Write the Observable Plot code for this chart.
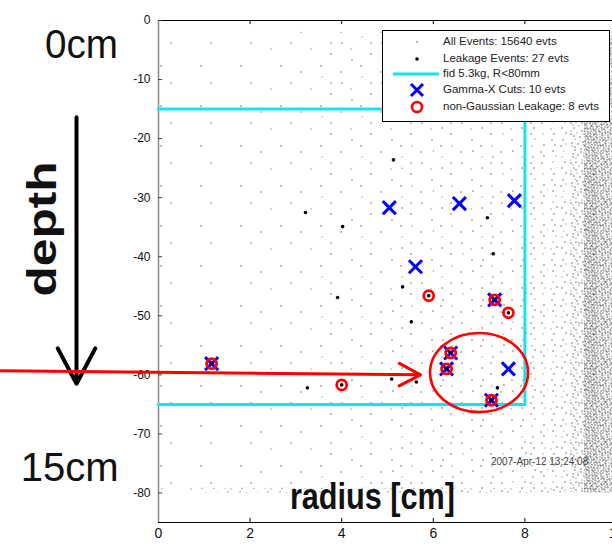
<!DOCTYPE html>
<html><head><meta charset="utf-8">
<script src="https://cdn.jsdelivr.net/npm/d3@7"></script>
<script src="https://cdn.jsdelivr.net/npm/@observablehq/plot@0.6"></script>
<style>
html,body{margin:0;padding:0;background:#fff;overflow:hidden;}
#wrap{position:relative;width:612px;height:545px;overflow:hidden;}
#wrap > svg{max-width:none !important;display:block;}
#legend{position:absolute;left:382px;top:30px;width:226px;height:90px;border:1px solid #000;background:#fff;font-family:"Liberation Sans",Arial,sans-serif;font-size:11.5px;color:#222;}
#legend .row{position:absolute;left:0;width:226px;height:16px;}
#legend .row svg{position:absolute;left:0;top:0;}
#legend .row span{position:absolute;left:60px;top:1px;white-space:nowrap;}
</style></head><body><div id="wrap"></div>
<script>
// ---------- data ----------
const xTicks = [0, 2, 4, 6, 8, 10];
const yTicks = [0, -10, -20, -30, -40, -50, -60, -70, -80];

// fiducial volume boundary (radius cm, depth)
const fidRadius = [0, 8, 8, 0];
const fidDepth = [-15, -15, -65, -65];

// leakage events (black dots)
const leakRadius = [5.13, 3.21, 4.02, 7.18, 7.31, 5.33, 3.91, 5.52, 5.09, 5.63, 3.25, 7.40, 5.90, 7.64, 4.00, 7.34, 1.16, 6.38, 6.29, 7.27];
const leakDepth  = [-23.6, -32.5, -34.9, -33.4, -39.5, -45.1, -46.9, -51.0, -60.7, -61.2, -62.2, -62.2, -46.6, -49.5, -61.7, -47.3, -58.1, -56.3, -59.0, -64.3];

// gamma-X cut events (blue crosses)
const gammaXRadius = [5.04, 6.57, 7.77, 5.61, 7.64, 7.34, 1.16, 6.38, 6.29, 7.27];
const gammaXDepth  = [-31.7, -31.0, -30.5, -41.7, -59.0, -47.3, -58.1, -56.3, -59.0, -64.3];

// non-Gaussian leakage events (red circles)
const nonGaussRadius = [5.90, 7.64, 4.00, 7.34, 1.16, 6.38, 6.29, 7.27];
const nonGaussDepth  = [-46.6, -49.5, -61.7, -47.3, -58.1, -56.3, -59.0, -64.3];

// "All events" background: estimated density (dots per 100 px^2) per cell
const densXEdges = [0, 1, 2, 3, 4, 5, 6, 7, 8, 8.5, 9, 9.3, 9.6, 10];
const densYEdges = [-2, -8, -15, -25, -35, -45, -55, -65, -72, -79.2, -80];
const densRow1  = [0.1, 0.15, 0.2, 0.3, 0.5, 0.7, 0.8, 0.9, 1.3, 1.8, 5, 20, 18];
const densRow2  = [0.1, 0.15, 0.2, 0.35, 0.5, 0.7, 0.8, 0.9, 1.4, 1.9, 5, 20, 18];
const densRow3  = [0.1, 0.15, 0.25, 0.35, 0.45, 0.55, 0.7, 0.8, 1.4, 1.9, 5, 22, 18];
const densRow4  = [0.1, 0.15, 0.25, 0.35, 0.45, 0.6, 0.7, 0.8, 1.4, 2.0, 6, 24, 18];
const densRow5  = [0.1, 0.15, 0.25, 0.35, 0.45, 0.6, 0.75, 0.9, 1.5, 2.1, 6, 24, 18];
const densRow6  = [0.1, 0.15, 0.25, 0.35, 0.5, 0.7, 0.9, 1.0, 1.6, 2.1, 6, 24, 18];
const densRow7  = [0.1, 0.15, 0.25, 0.35, 0.5, 0.7, 0.9, 1.0, 1.6, 2.1, 6, 24, 18];
const densRow8  = [0.1, 0.15, 0.25, 0.3, 0.45, 0.6, 0.8, 0.9, 1.5, 2.1, 6, 22, 18];
const densRow9  = [0.1, 0.15, 0.25, 0.35, 0.5, 0.7, 0.9, 1.0, 1.6, 2.1, 6, 22, 18];
const densRow10 = [1, 3, 3, 3, 3, 3.5, 4, 4, 4, 5, 8, 24, 18];

// legend
const legendLabels = ["All Events: 15640 evts", "Leakage Events: 27 evts", "fid 5.3kg, R<80mm", "Gamma-X Cuts: 10 evts", "non-Gaussian Leakage: 8 evts"];

// annotations (positions in data units)
const annoText = ["0cm", "15cm", "depth", "radius [cm]", "2007-Apr-12 13:24:08"];
const annoX = [-1.68, -1.94, -2.51, 4.67, 8.32];
const annoY = [-4.2, -75.8, -35.3, -80.8, -74.7];

// ---------- build tables ----------
const leak = leakRadius.map((r, i) => ({r, z: leakDepth[i]}));
const gammaX = gammaXRadius.map((r, i) => ({r, z: gammaXDepth[i]}));
const nonGauss = nonGaussRadius.map((r, i) => ({r, z: nonGaussDepth[i]}));
const fid = fidRadius.map((r, i) => ({r, z: fidDepth[i]}));
const densRows = [densRow1, densRow2, densRow3, densRow4, densRow5, densRow6, densRow7, densRow8, densRow9, densRow10];
const TILE = 40;
const cells = [];
densRows.forEach((row, i) => row.forEach((d, j) => {
  cells.push({x1: densXEdges[j], x2: densXEdges[j + 1], y1: densYEdges[i + 1], y2: densYEdges[i], n: Math.round(d * TILE * TILE / 100)});
}));
const levels = Array.from(new Set(cells.map(c => c.n))).filter(n => n > 0).sort((a, b) => a - b);

const FONT = "Liberation Sans, Arial, sans-serif";
const NARROW = "Liberation Sans Narrow, Liberation Sans, Arial, sans-serif";

const plot = Plot.plot({
  width: 620, height: 545,
  marginLeft: 158, marginRight: 4, marginTop: 20, marginBottom: 23,
  x: {domain: [0, 10]},
  y: {domain: [-85, 0]},
  style: {fontFamily: FONT, background: "transparent", overflow: "visible", maxWidth: "none"},
  marks: [
    ...levels.map(n => Plot.rect(cells.filter(c => c.n === n), {x1: "x1", x2: "x2", y1: "y1", y2: "y2", fill: `url(#speck${n})`})),
    Plot.frame({stroke: "#000", strokeWidth: 1}),
    Plot.ruleX([0], {stroke: "#888", strokeWidth: 1.5}),
    Plot.ruleY(yTicks, {x1: 0, x2: 0.09, stroke: "#444"}),
    Plot.ruleX(xTicks.slice(1, 5), {y1: -85, y2: -84.3, stroke: "#000"}),
    Plot.ruleX(xTicks.slice(1, 5), {y1: 0, y2: -0.7, stroke: "#000"}),
    Plot.axisY({ticks: yTicks, tickFormat: d => String(d), tickSize: 0, tickPadding: 8, fontSize: 12, label: null, fill: "#111"}),
    Plot.axisX({ticks: xTicks, tickFormat: d => String(d), tickSize: 0, tickPadding: 6, fontSize: 14, label: null, fill: "#111"}),
    Plot.line(fid, {x: "r", y: "z", stroke: "#14e4ee", strokeWidth: 3}),
    Plot.dot(gammaX, {x: "r", y: "z", symbol: "times", r: 6, stroke: "#0000ff", strokeWidth: 3}),
    Plot.dot(nonGauss, {x: "r", y: "z", r: 5, stroke: "#ff0000", strokeWidth: 2.8, fill: "none"}),
    Plot.dot(leak, {x: "r", y: "z", r: 1.8, fill: "#000"}),
    // annotations
    Plot.arrow([{x1: -1.79, y1: -16.4, x2: -1.79, y2: -61.5}], {x1: "x1", y1: "y1", x2: "x2", y2: "y2", stroke: "#000", strokeWidth: 4, headLength: 15, headAngle: 56}),
    Plot.arrow([{x1: -3.45, y1: -59.3, x2: 5.72, y2: -60.0}], {x1: "x1", y1: "y1", x2: "x2", y2: "y2", stroke: "#ff0000", strokeWidth: 3, headLength: 12, headAngle: 56}),
    Plot.text([0, 1], {x: i => annoX[i], y: i => annoY[i], text: i => annoText[i], fontSize: 41, fontFamily: NARROW, fill: "#111"}),
    Plot.text([2], {x: i => annoX[i], y: i => annoY[i], text: i => annoText[i], fontSize: 40, fontWeight: "bold", rotate: -90, fill: "#111"}),
    Plot.text([3], {x: i => annoX[i], y: i => annoY[i], text: i => annoText[i], fontSize: 36, fontWeight: "bold", fill: "#111"}),
    Plot.text([4], {x: i => annoX[i], y: i => annoY[i], text: i => annoText[i], fontSize: 10, fill: "#444"})
  ]
});

// speckle patterns for background density
const svg = d3.select(plot);
plot.style.maxWidth = "none";
const defs = svg.insert("defs", ":first-child");
for (const n of levels) {
  const p = defs.append("pattern").attr("id", `speck${n}`).attr("patternUnits", "userSpaceOnUse")
    .attr("x", 0.5).attr("y", 0.5).attr("width", TILE).attr("height", TILE);
  for (let i = 0; i < n; i++) {
    const px = Math.floor(((0.5 + (i + 1) * 0.7548776662) % 1) * TILE);
    const py = Math.floor(((0.5 + (i + 1) * 0.5698402910) % 1) * TILE);
    p.append("rect").attr("x", px).attr("y", py).attr("width", 1).attr("height", 1)
      .attr("fill", i % 3 === 2 ? "#666" : "#000");
  }
}

// red ellipse around the cluster (via plot scales)
const sx = plot.scale("x"), sy = plot.scale("y");
svg.append("ellipse")
  .attr("cx", sx.apply(7.01)).attr("cy", sy.apply(-59.7))
  .attr("rx", sx.apply(8.08) - sx.apply(7.01)).attr("ry", sy.apply(-66.4) - sy.apply(-59.7))
  .attr("fill", "none").attr("stroke", "#ff0000").attr("stroke-width", 2.6);

// fit annotation text widths
const widths = {"0cm": 73, "15cm": 98, "depth": 135, "radius [cm]": 165};
svg.selectAll("text").each(function() {
  const w = widths[this.textContent];
  if (w) d3.select(this).attr("textLength", w).attr("lengthAdjust", "spacingAndGlyphs");
});

const wrap = document.getElementById("wrap");
wrap.appendChild(plot);

// legend
const legend = document.createElement("div");
legend.id = "legend";
const rowTops = [3, 20, 35, 51, 68];
const markers = [
  `<circle cx="34" cy="8" r="0.7" fill="#333"/>`,
  `<circle cx="34" cy="8" r="1.8" fill="#000"/>`,
  `<line x1="10" x2="56" y1="8" y2="8" stroke="#14e4ee" stroke-width="3"/>`,
  `<path d="M28,2L40,14M40,2L28,14" stroke="#0000ff" stroke-width="3"/>`,
  `<circle cx="34" cy="8" r="5" fill="none" stroke="#ff0000" stroke-width="2.6"/>`
];
legendLabels.forEach((lab, i) => {
  const row = document.createElement("div");
  row.className = "row";
  row.style.top = rowTops[i] + "px";
  row.innerHTML = `<svg width="60" height="16">${markers[i]}</svg><span></span>`;
  row.querySelector("span").textContent = lab;
  legend.appendChild(row);
});
wrap.appendChild(legend);
</script>
</body></html>
